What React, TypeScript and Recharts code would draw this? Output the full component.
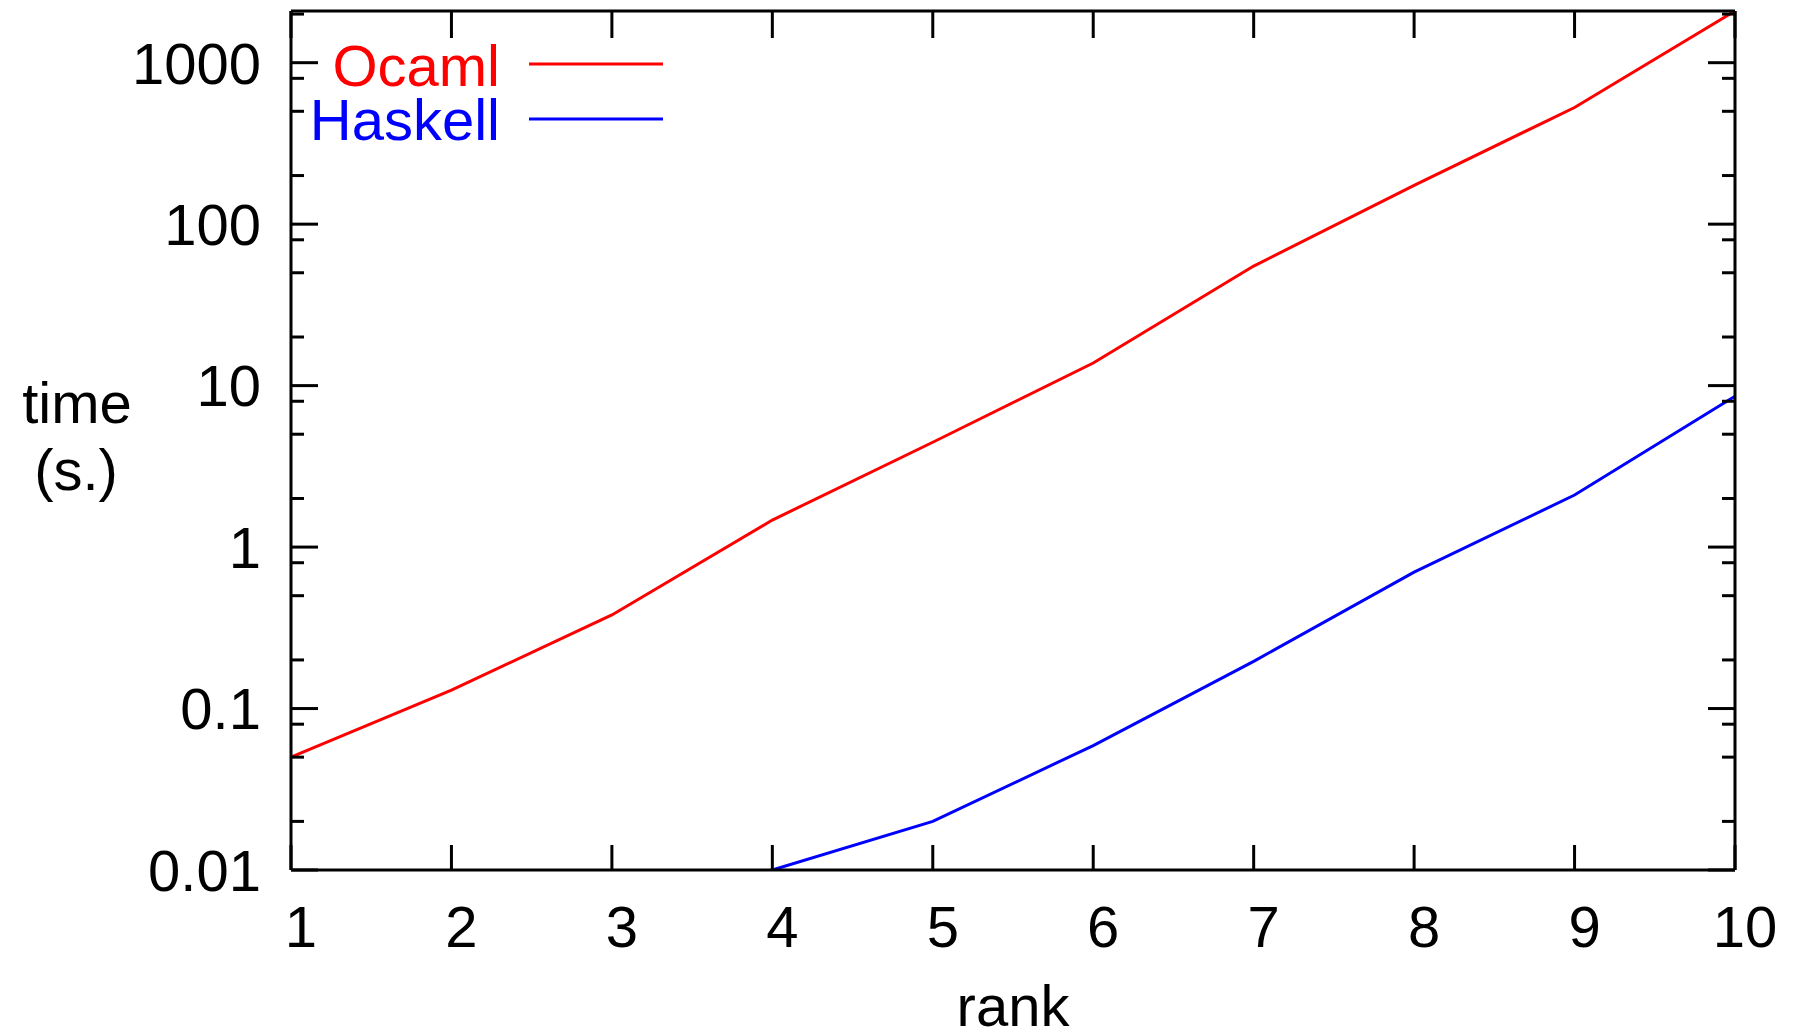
import { LineChart, Line, XAxis, YAxis, Customized } from "recharts";

const ranks = [1, 2, 3, 4, 5, 6, 7, 8, 9, 10];
const ocaml = [0.05, 0.13, 0.38, 1.47, 4.46, 13.8, 55, 174, 528, 2090];
const haskell = [null, null, null, 0.01, 0.02, 0.059, 0.196, 0.70, 2.1, 8.6];

const yTicks = [
  0.01, 0.02, 0.05, 0.08, 0.1, 0.2, 0.5, 0.8, 1, 2, 5, 8,
  10, 20, 50, 80, 100, 200, 500, 800, 1000, 2000,
];
const yMajor = [0.01, 0.1, 1, 10, 100, 1000];
const yLabels = ["0.01", "0.1", "1", "10", "100", "1000"];

const data = ranks.map((r, i) => ({ rank: r, ocaml: ocaml[i], haskell: haskell[i] }));

const FONT = "'Liberation Sans', Arial, sans-serif";
const FS = 58;
const RED = "#ff0000";
const BLUE = "#0000ff";
const SW = 3;

function LeftTick({ x, y, payload }: any) {
  const i = yMajor.indexOf(payload.value);
  const major = i >= 0;
  return (
    <g>
      <line x1={x} x2={x + (major ? 27 : 13)} y1={y} y2={y} stroke="#000" strokeWidth={SW} />
      {major && (
        <text x={x - 30} y={y + FS * 0.36} textAnchor="end" fontFamily={FONT} fontSize={FS} fill="#000">
          {yLabels[i]}
        </text>
      )}
    </g>
  );
}

function RightTick({ x, y, payload }: any) {
  const major = yMajor.includes(payload.value);
  return <line x1={x} x2={x - (major ? 27 : 13)} y1={y} y2={y} stroke="#000" strokeWidth={SW} />;
}

function BottomTick({ x, y, payload }: any) {
  return (
    <g>
      <line x1={x} x2={x} y1={y} y2={y - 25} stroke="#000" strokeWidth={SW} />
      <text x={x + 10} y={y + 77} textAnchor="middle" fontFamily={FONT} fontSize={FS} fill="#000">
        {payload.value}
      </text>
    </g>
  );
}

function TopTick({ x, y }: any) {
  return <line x1={x} x2={x} y1={y} y2={y + 27} stroke="#000" strokeWidth={SW} />;
}

function Legend() {
  return (
    <g fontFamily={FONT} fontSize={FS}>
      <text x={500} y={86} textAnchor="end" fill={RED}>Ocaml</text>
      <line x1={529} x2={663} y1={64} y2={64} stroke={RED} strokeWidth={SW} />
      <text x={500} y={140} textAnchor="end" fill={BLUE}>Haskell</text>
      <line x1={529} x2={663} y1={119} y2={119} stroke={BLUE} strokeWidth={SW} />
    </g>
  );
}

export default function App() {
  const yDomain = [0.01, Math.max(...ocaml)];
  const axisLine = { stroke: "#000", strokeWidth: SW };
  return (
    <div style={{ position: "fixed", left: 0, top: 0, background: "#fff" }}>
      <LineChart width={1797} height={1036} data={data} margin={{ top: 0, right: 0, bottom: 0, left: 0 }}>
        <XAxis
          dataKey="rank"
          type="number"
          domain={[1, 10]}
          ticks={ranks}
          height={166}
          axisLine={axisLine}
          tickLine={false}
          tickSize={0}
          tickMargin={0}
          tick={<BottomTick />}
          interval={0}
          label={{
            content: ({ viewBox }: any) => (
              <text x={viewBox.x + viewBox.width / 2} y={1026} textAnchor="middle" fontFamily={FONT} fontSize={FS} fill="#000">
                rank
              </text>
            ),
          }}
        />
        <XAxis
          xAxisId="top"
          orientation="top"
          dataKey="rank"
          type="number"
          domain={[1, 10]}
          ticks={ranks}
          height={11}
          axisLine={axisLine}
          tickLine={false}
          tickSize={0}
          tickMargin={0}
          tick={<TopTick />}
          interval={0}
        />
        <YAxis
          type="number"
          scale="log"
          domain={yDomain}
          allowDataOverflow
          ticks={yTicks}
          interval={0}
          width={291}
          axisLine={axisLine}
          tickLine={false}
          tickSize={0}
          tickMargin={0}
          tick={<LeftTick />}
          label={{
            content: () => (
              <g fontFamily={FONT} fontSize={FS} fill="#000">
                <text x={77} y={423} textAnchor="middle">time</text>
                <text x={76} y={490} textAnchor="middle">(s.)</text>
              </g>
            ),
          }}
        />
        <YAxis
          yAxisId="right"
          orientation="right"
          type="number"
          scale="log"
          domain={yDomain}
          allowDataOverflow
          ticks={yTicks}
          interval={0}
          width={62}
          axisLine={axisLine}
          tickLine={false}
          tickSize={0}
          tickMargin={0}
          tick={<RightTick />}
        />
        <Line type="linear" dataKey="ocaml" stroke={RED} strokeWidth={SW} dot={false} isAnimationActive={false} />
        <Line type="linear" dataKey="haskell" stroke={BLUE} strokeWidth={SW} dot={false} isAnimationActive={false} />
        <Customized component={Legend} />
      </LineChart>
    </div>
  );
}
